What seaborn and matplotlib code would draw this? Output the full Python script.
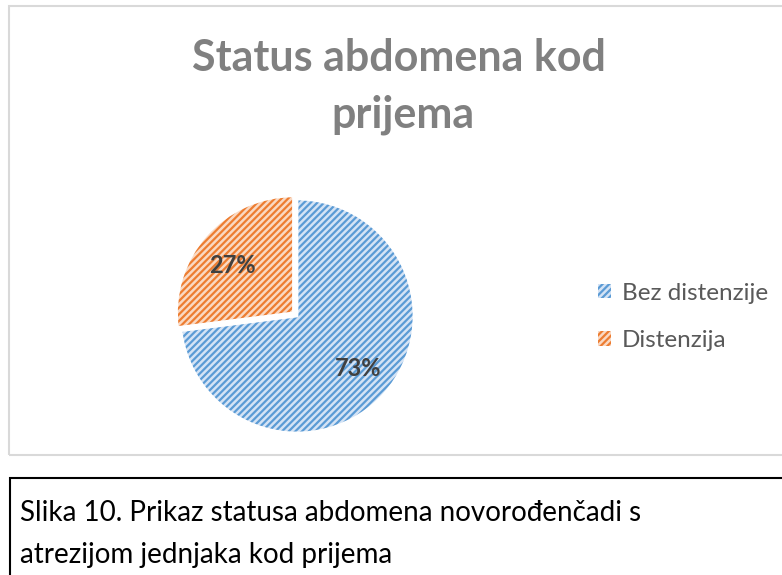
import matplotlib
matplotlib.use("Agg")
import matplotlib.pyplot as plt
import seaborn as sns
from matplotlib.patches import Rectangle, Patch

categories = ["Bez distenzije", "Distenzija"]
shares = [73, 27]
fill_colors = ["#d4e3f5", "#fad9c3"]
hatch_colors = ["#5b9bd5", "#ed7d31"]

sns.set_theme(style="white")
plt.rcParams["font.family"] = ["Lato", "DejaVu Sans"]
plt.rcParams["hatch.linewidth"] = 1.6

W, H = 782, 575
fig = plt.figure(figsize=(W / 100, H / 100), dpi=100)

# chart frame (light gray) and caption box (black)
fig.patches.append(Rectangle((9 / W, 1 - 455 / H), 1, 449 / H,
                             transform=fig.transFigure, fill=False,
                             edgecolor="#d9d9d9", linewidth=1.5))
fig.patches.append(Rectangle((10 / W, -0.1), 1, 0.1 + 97 / H,
                             transform=fig.transFigure, fill=False,
                             edgecolor="#000000", linewidth=1.5))

# pie: centre (297, 316) px, radius 117 px
r, cx, cy = 117, 297, 316
side = 2 * r * 1.1
ax = fig.add_axes([(cx - side / 2) / W, 1 - (cy + side / 2) / H, side / W, side / H])
explode = [0, 0.04]
wedges, texts = ax.pie(shares, startangle=90, counterclock=False,
                       explode=explode, colors=fill_colors)
for w, hc in zip(wedges, hatch_colors):
    w.set_hatch("/////")
    w.set_edgecolor(hc)
    w.set_linewidth(0)
# white wedge borders drawn over
ax.pie(shares, startangle=90, counterclock=False, explode=explode,
       colors=["none", "none"],
       wedgeprops=dict(linewidth=2, edgecolor="white"))
ax.set_xlim(-1.1, 1.1)
ax.set_ylim(-1.1, 1.1)
ax.set_aspect("equal")
ax.axis("off")

label_pos = [(0.52, -0.45), (-0.55, 0.43)]
for s, (x, y) in zip(shares, label_pos):
    ax.text(x, y, f"{s}%", ha="center", va="center", fontsize=17,
            fontweight="bold", color="#404040")

fig.text(0.51, 1 - 58 / H, "Status abdomena kod", ha="center", va="center",
         fontsize=31, fontweight="bold", color="#808080")
fig.text(0.515, 1 - 115 / H, "prijema", ha="center", va="center",
         fontsize=31, fontweight="bold", color="#808080")

handles = [Patch(facecolor=f, edgecolor=h, hatch="/////", linewidth=0)
           for f, h in zip(fill_colors, hatch_colors)]
fig.legend(handles, categories, loc="center left",
           bbox_to_anchor=(576 / W, 1 - 317 / H), frameon=False,
           fontsize=17.5, labelcolor="#595959", handlelength=0.55,
           handleheight=0.55, handletextpad=0.45, labelspacing=1.1)

fig.text(20 / W, 1 - 513 / H,
         "Slika 10. Prikaz statusa abdomena novorođenčadi s",
         ha="left", va="center", fontsize=20, color="#000000")
fig.text(20 / W, 1 - 555 / H, "atrezijom jednjaka kod prijema",
         ha="left", va="center", fontsize=20, color="#000000")

fig.savefig("out.png", dpi=100)
